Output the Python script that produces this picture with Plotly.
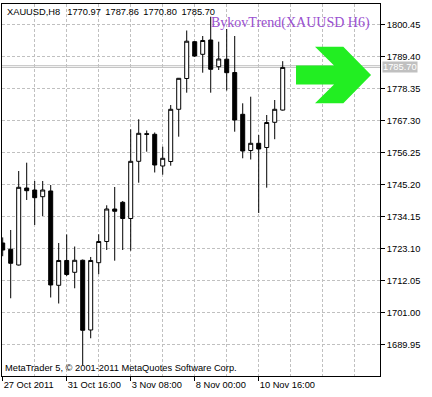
import plotly.graph_objects as go

# ---- data (XAUUSD, H8) ----
bar_index = list(range(36))
opens = [1725.07, 1722.90, 1717.47, 1744.06, 1743.37, 1741.06, 1743.03, 1710.46, 1719.03, 1714.95,
         1719.10, 1695.03, 1718.27, 1725.59, 1736.81, 1739.12, 1733.53, 1753.28, 1762.80, 1762.60,
         1751.66, 1753.21, 1771.24, 1781.87, 1794.58, 1790.23, 1795.17, 1785.95, 1788.54, 1783.94,
         1769.51, 1757.01, 1759.50, 1758.05, 1766.75, 1770.97]
highs = [1727.00, 1729.56, 1749.93, 1752.80, 1746.48, 1746.48, 1745.10, 1725.07, 1728.01, 1723.86,
         1719.37, 1720.24, 1728.07, 1738.09, 1744.41, 1739.57, 1764.33, 1767.79, 1763.92, 1763.23,
         1758.32, 1772.72, 1782.05, 1798.45, 1794.82, 1796.55, 1803.21, 1794.58, 1798.97, 1796.55,
         1773.31, 1775.59, 1762.36, 1769.27, 1774.45, 1787.86]
lows = [1720.50, 1705.98, 1717.30, 1739.92, 1731.29, 1734.39, 1706.25, 1704.18, 1713.67, 1709.43,
        1682.95, 1692.17, 1714.30, 1722.65, 1718.96, 1722.65, 1722.41, 1745.89, 1756.60, 1749.42,
        1748.66, 1751.76, 1761.78, 1776.97, 1789.30, 1783.88, 1776.97, 1784.81, 1777.73, 1763.50,
        1754.32, 1753.90, 1735.43, 1744.17, 1760.91, 1770.80]
closes = [1722.65, 1718.06, 1744.30, 1743.13, 1740.71, 1743.37, 1710.57, 1719.03, 1714.19, 1719.10,
          1694.93, 1719.03, 1725.59, 1736.81, 1736.02, 1733.53, 1753.28, 1762.95, 1762.60, 1752.00,
          1754.32, 1771.24, 1781.94, 1794.75, 1789.64, 1795.00, 1785.05, 1788.61, 1783.88, 1767.54,
          1756.84, 1759.50, 1757.53, 1766.68, 1771.24, 1785.70]

x_tick_index = [0, 8, 16, 24, 32]
x_tick_labels = ["27 Oct 2011", "31 Oct 16:00", "3 Nov 08:00", "8 Nov 00:00", "10 Nov 16:00"]
y_tick_values = [1689.95, 1701.00, 1712.05, 1723.10, 1734.15, 1745.20,
                 1756.25, 1767.30, 1778.35, 1789.40, 1800.45]
y_tick_labels = [f"{v:.2f}" for v in y_tick_values]

bid_price = closes[-1]
ask_price = 1786.30
signal_bar = 41.35
signal_price = 1783.1

symbol = "XAUUSD"
timeframe = "H8"
indicator_name = "BykovTrend(XAUUSD H6)"
copyright_text = "MetaTrader 5, © 2001-2011 MetaQuotes Software Corp."

# ---- figure ----
FONT = "Liberation Sans, Arial, sans-serif"
GRID = "#c0c0c0"

fig = go.Figure()
fig.add_trace(go.Candlestick(
    x=bar_index, open=opens, high=highs, low=lows, close=closes,
    increasing=dict(fillcolor="white", line=dict(color="black", width=1)),
    decreasing=dict(fillcolor="black", line=dict(color="black", width=1)),
    whiskerwidth=0, hoverinfo="skip", showlegend=False,
))

sep = "\u2009\u00a0"
header = (f"{symbol},{timeframe}\u00a0\u00a0\u2009"
          + sep.join(f"{v:.2f}" for v in (opens[-1], highs[-1], lows[-1], closes[-1])))

fig.update_layout(
    width=432, height=397,
    margin=dict(l=2, r=52, t=4, b=21),
    paper_bgcolor="white", plot_bgcolor="white",
    boxgap=0.5, boxgroupgap=0,
    font=dict(family=FONT, size=9.3, color="black"),
    xaxis=dict(
        range=[-0.0875, 47.16], rangeslider=dict(visible=False),
        tickmode="array", tickvals=x_tick_index, ticktext=x_tick_labels,
        ticks="outside", ticklen=4, tickcolor="black", tickwidth=1,
        ticklabelposition="outside right",
        showgrid=True, gridcolor=GRID, griddash="3px,2px", gridwidth=1,
        minor=dict(dtick=4, tick0=0, showgrid=True, gridcolor=GRID, griddash="3px,2px", ticks=""),
        showline=True, linecolor="black", linewidth=1, mirror=True,
        zeroline=False, fixedrange=True,
        tickfont=dict(family=FONT, size=9.3, color="black"),
    ),
    yaxis=dict(
        range=[1679.14, 1807.60], side="right",
        tickmode="array", tickvals=y_tick_values, ticktext=y_tick_labels,
        ticks="outside", ticklen=4, tickcolor="black", tickwidth=1,
        showgrid=True, gridcolor=GRID, griddash="3px,2px", gridwidth=1,
        showline=True, linecolor="black", linewidth=1, mirror=True,
        zeroline=False, fixedrange=True,
        tickfont=dict(family=FONT, size=9.3, color="black"),
    ),
    shapes=[
        dict(type="line", xref="paper", x0=0, x1=1, yref="y", y0=ask_price, y1=ask_price,
             line=dict(color="#c0c0c0", width=1), layer="below"),
        dict(type="line", xref="paper", x0=0, x1=1, yref="y", y0=bid_price, y1=bid_price,
             line=dict(color="#c0c0c0", width=1), layer="below"),
        dict(type="path", xref="x", yref="y", xsizemode="pixel", ysizemode="pixel",
             xanchor=signal_bar, yanchor=signal_price,
             path="M -37.5,-9.5 L 0.5,-9.5 L -18.5,-28.3 L 9.8,-28.3 L 37.5,0 L 9.8,28.3 "
                  "L -18.5,28.3 L 0.5,9.5 L -37.5,9.5 Z",
             fillcolor="#22ee22", line=dict(width=0), layer="above"),
    ],
    annotations=[
        dict(text=header, xref="paper", yref="paper", x=0, y=0.9777, xanchor="left", yanchor="middle",
             xshift=3, showarrow=False, font=dict(family=FONT, size=9.3, color="black")),
        dict(text=indicator_name, xref="paper", yref="paper", x=(372 - 2) / 378, y=0.948,
             xanchor="right", yanchor="middle", showarrow=False,
             font=dict(family="Liberation Serif, Times New Roman, serif", size=14, color="#9a50d0")),
        dict(text=copyright_text, xref="paper", yref="paper", x=0, y=0.0207, xanchor="left", yanchor="middle",
             xshift=1, showarrow=False, font=dict(family=FONT, size=9.3, color="black")),
        dict(text=f"{bid_price:.2f}", xref="paper", yref="y", x=1, y=bid_price, xanchor="left",
             yanchor="middle", xshift=2, showarrow=False, bgcolor="#c0c0c0", borderpad=0,
             font=dict(family=FONT, size=9.3, color="white")),
    ],
)

fig.write_html("out.html")
